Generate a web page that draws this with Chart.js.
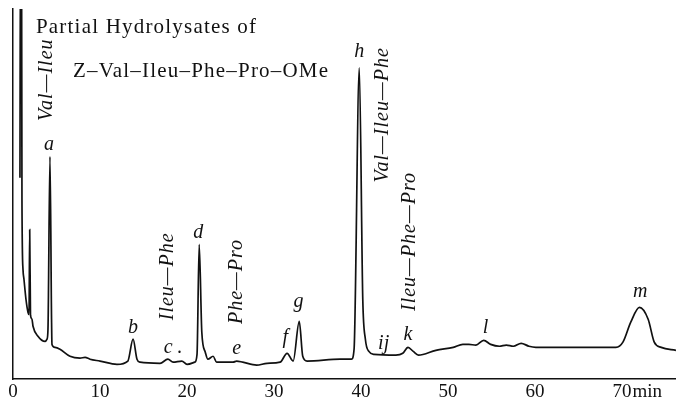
<!DOCTYPE html>
<html>
<head>
<meta charset="utf-8">
<script src="https://cdn.jsdelivr.net/npm/chart.js@4"></script>
<style>
  html, body { margin: 0; padding: 0; background: #fff; }
  #contenedor { width: 676px; height: 404px; }
</style>
</head>
<body>
<div id="contenedor"><canvas id="cromatograma"></canvas></div>
<script>
// retention time (min) and detector response (% of full scale)
const retentionTime = [0.80, 0.86, 0.98, 1.03, 1.15, 1.26, 1.49, 1.72, 1.84, 1.92,
    2.01, 2.18, 2.30, 2.87, 3.68, 3.91, 4.02, 4.25, 4.43, 4.48,
    4.83, 5.40, 6.55, 7.70, 8.28, 8.85, 10.0, 11.95, 13.2, 13.8,
    14.25, 14.6, 16.9, 17.8, 18.4, 19.4, 20.0, 20.9, 21.15, 21.4,
    21.7, 22.1, 22.4, 23.0, 23.4, 25.3, 25.7, 26.4, 28.0, 29.2,
    30.7, 31.5, 32.2, 32.9, 33.3, 33.8, 37.6, 38.9, 39.2, 39.8,
    40.2, 40.5, 40.9, 41.5, 44.0, 44.8, 45.4, 46.0, 46.6, 48.6,
    50.6, 51.7, 52.4, 53.2, 54.1, 54.9, 55.9, 56.7, 57.5, 58.4,
    59.3, 60.1, 63.9, 69.3, 70.1, 71.0, 72.0, 73.0, 73.7, 74.5,
    76.2];
const response = [54.4, 120, 120, 48.5, 29.6, 27.0, 21.6, 18.1, 17.5, 40.4,
    17.3, 16.2, 14.3, 11.6, 10.2, 10.8, 13.5, 60.1, 16.2, 9.4,
    8.6, 8.1, 6.2, 5.7, 5.9, 5.4, 4.9, 4.0, 4.9, 10.8,
    5.4, 4.6, 4.3, 5.4, 4.6, 4.9, 4.0, 4.6, 6.7, 36.4,
    12.7, 7.3, 5.4, 6.2, 4.6, 4.6, 4.9, 4.6, 3.8, 4.3,
    4.6, 7.0, 4.9, 15.6, 6.2, 4.9, 5.4, 5.4, 8.1, 84.1,
    21.6, 10.8, 7.5, 6.7, 6.5, 7.0, 8.6, 7.5, 6.5, 7.8,
    8.6, 9.4, 9.4, 9.2, 10.5, 9.4, 8.9, 9.2, 8.9, 9.7,
    8.9, 8.6, 8.6, 8.6, 10.0, 15.4, 19.4, 16.2, 10.0, 8.6,
    7.8];

const xTicks = [0, 10, 20, 30, 40, 50, 60, 70];
const xUnit = 'min';

// peak letters
const peakNames = ['a', 'b', 'c .', 'd', 'e', 'f', 'g', 'h', 'ij', 'k', 'l', 'm'];
const peakTime = [4.14, 13.8, 18.4, 21.3, 25.7, 31.3, 32.8, 39.8, 42.6, 45.4, 54.3, 72.1];
const peakLevel = [63.3, 14.0, 8.6, 39.6, 8.1, 11.3, 20.8, 88.4, 9.7, 11.9, 14.0, 23.5];

// peptide assignments, written vertically
const peptideNames = ['Val\u2014Ileu', 'Ileu\u2014Phe', 'Phe\u2014Pro', 'Val\u2014Ileu\u2014Phe', 'Ileu\u2014Phe\u2014Pro'];
const peptideTime = [3.9, 17.8, 25.7, 42.5, 45.6];
const peptideLevel = [80.9, 27.8, 26.4, 71.4, 37.2];

const titleLines = ['Partial Hydrolysates of', 'Z\u2013Val\u2013Ileu\u2013Phe\u2013Pro\u2013OMe'];
const titleTime = [2.64, 6.9];
const titleLevel = [95.1, 83.0];

const tickFontSize = 19;
const tickPadding = 1;

const textosPlugin = {
    id: 'textos',
    afterDraw(chart) {
        const ctx = chart.ctx;
        const ex = chart.scales.x;
        const ey = chart.scales.y;
        ctx.save();
        ctx.fillStyle = '#111';

        ctx.font = '21px "Liberation Serif", serif';
        ctx.textAlign = 'left';
        ctx.textBaseline = 'middle';
        ctx.letterSpacing = '1.2px';
        for (let i = 0; i < titleLines.length; i++) {
            ctx.fillText(titleLines[i], ex.getPixelForValue(titleTime[i]), ey.getPixelForValue(titleLevel[i]));
        }

        ctx.font = 'italic 20px "Liberation Serif", serif';
        ctx.textAlign = 'center';
        ctx.letterSpacing = '0px';
        for (let i = 0; i < peakNames.length; i++) {
            ctx.fillText(peakNames[i], ex.getPixelForValue(peakTime[i]), ey.getPixelForValue(peakLevel[i]));
        }

        ctx.letterSpacing = '1px';
        for (let i = 0; i < peptideNames.length; i++) {
            ctx.save();
            ctx.translate(ex.getPixelForValue(peptideTime[i]), ey.getPixelForValue(peptideLevel[i]));
            ctx.rotate(-Math.PI / 2);
            ctx.fillText(peptideNames[i], 0, 0);
            ctx.restore();
        }

        // unit after the last tick label
        ctx.letterSpacing = '0px';
        ctx.font = tickFontSize + 'px "Liberation Serif", serif';
        const ultimo = xTicks[xTicks.length - 1];
        const ancho = ctx.measureText(String(ultimo)).width;
        ctx.textAlign = 'left';
        ctx.fillText(xUnit, ex.getPixelForValue(ultimo) + ancho / 2 + 1, ex.top + tickPadding + tickFontSize * 1.2 / 2);
        ctx.restore();
    }
};

const puntos = retentionTime.map((t, i) => ({ x: t, y: response[i] }));

new Chart(document.getElementById('cromatograma'), {
    type: 'line',
    data: {
        datasets: [{
            data: puntos,
            borderColor: '#111',
            borderWidth: 1.7,
            pointRadius: 0,
            fill: false,
            cubicInterpolationMode: 'monotone'
        }]
    },
    options: {
        responsive: true,
        maintainAspectRatio: false,
        animation: false,
        layout: { padding: { left: 13, top: 9, right: 0, bottom: 0 } },
        plugins: { legend: { display: false }, tooltip: { enabled: false } },
        scales: {
            x: {
                type: 'linear',
                min: 0,
                max: 76.2,
                grid: { display: false, drawTicks: false },
                border: { display: true, color: '#111', width: 1.5 },
                afterBuildTicks: (scale) => { scale.ticks = xTicks.map(v => ({ value: v })); },
                ticks: {
                    autoSkip: false,
                    maxRotation: 0,
                    padding: tickPadding,
                    color: '#111',
                    font: { family: '"Liberation Serif", serif', size: tickFontSize }
                }
            },
            y: {
                min: 0,
                max: 100,
                grid: { display: false, drawTicks: false },
                border: { display: true, color: '#111', width: 1.5 },
                ticks: { display: false }
            }
        }
    },
    plugins: [textosPlugin]
});
</script>
</body>
</html>
